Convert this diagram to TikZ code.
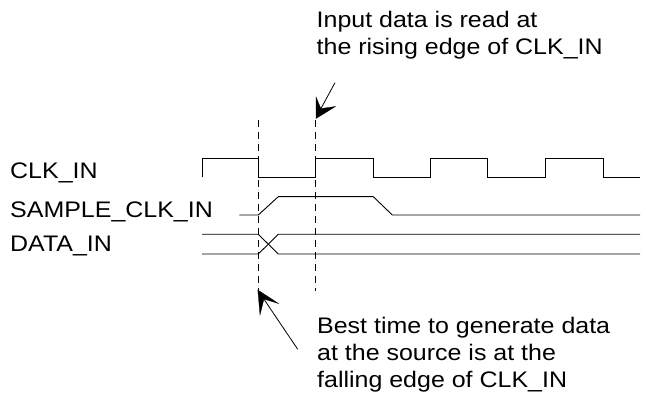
\documentclass[tikz,border=0pt]{standalone}
\usepackage{fontspec}
\setmainfont{Liberation Sans}[FakeStretch=1.11]
\usetikzlibrary{arrows.meta}
\begin{document}
\begin{tikzpicture}[x=1pt,y=-1pt,
  lbl/.style={anchor=base west,inner sep=0pt,font=\fontsize{22.5}{27}\selectfont},
  wave/.style={line width=0.9pt,line join=miter},
  guide/.style={line width=0.8pt,dash pattern=on 7pt off 5pt},
  callout/.style={line width=0.8pt},
  head/.style={fill=black,draw=black,line width=0.3pt,line join=miter}]
\useasboundingbox (0,0) rectangle (646,395);
% labels
\node[lbl] (clk) at (10,179) {CLK\_IN};
\node[lbl] (sclk) at (10,217.3) {SAMPLE\_CLK\_IN};
\node[lbl] (data) at (10,251.7) {DATA\_IN};
% CLK_IN waveform
\draw[wave] (202,177.3) -- (202,158.3) -- (258.3,158.3) -- (258.3,177.3) -- (315.7,177.3) -- (315.7,158.3)
  -- (373.3,158.3) -- (373.3,177.3) -- (430.7,177.3) -- (430.7,158.3) -- (487.7,158.3) -- (487.7,177.3)
  -- (545,177.3) -- (545,158.3) -- (603.3,158.3) -- (603.3,177.3) -- (640,177.3);
% SAMPLE_CLK_IN waveform
\draw[wave] (239.3,215) -- (258.3,215) -- (278.3,196.7) -- (373.3,196.7) -- (392.3,215) -- (640,215);
% DATA_IN waveform
\draw[wave] (202,234.3) -- (258.3,234.3) -- (278.3,254) -- (640,254);
\draw[wave] (202,254) -- (258.3,254) -- (278.3,234.3) -- (640,234.3);
% dashed guides
\coordinate (g1top) at (258.3,120);
\coordinate (g1bot) at (258.3,291.7);
\coordinate (g2top) at (315.7,120);
\coordinate (g2bot) at (315.7,291);
\draw[guide] (g1top) -- (g1bot);
\draw[guide] (g2top) -- (g2bot);
% top annotation
\node[lbl] (t1) at (316.5,27.7) {Input data is read at};
\node[lbl] (t2) at (316.5,54.7) {the rising edge of CLK\_IN};
\coordinate (a1tail) at (335,82.7);
\coordinate (a1tip) at (316,118.5);
\coordinate (a1in) at (320.9,108.6);
\draw[callout] (a1tail) -- (a1in);
\fill[head] (a1tip) -- (316,97) -- (a1in) -- (335.5,106.5) -- cycle;
% bottom annotation
\node[lbl] (b1) at (317,333.3) {Best time to generate data};
\node[lbl] (b2) at (317,360.7) {at the source is at the};
\node[lbl] (b3) at (317,387.3) {falling edge of CLK\_IN};
\coordinate (a2tail) at (297.7,349.3);
\coordinate (a2tip) at (257.8,290);
\coordinate (a2in) at (263.9,299.1);
\draw[callout] (a2tail) -- (a2in);
\fill[head] (a2tip) -- (260,315) -- (a2in) -- (278.5,303.5) -- cycle;
\end{tikzpicture}
\end{document}
